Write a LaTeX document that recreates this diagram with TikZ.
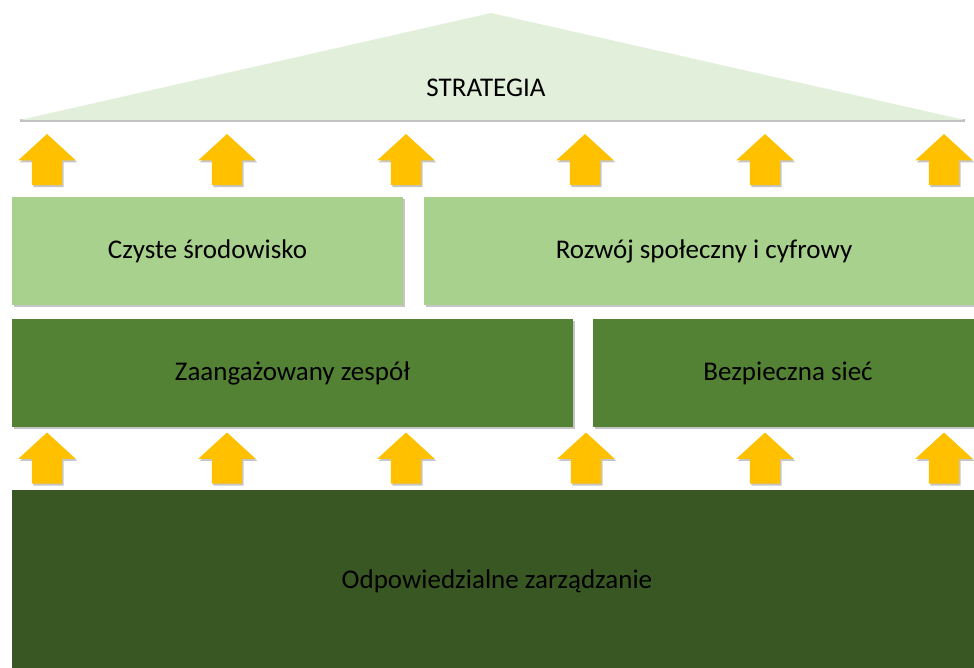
\documentclass[tikz,border=0pt]{standalone}
\usepackage{fontspec}
\setmainfont{Carlito}
\usetikzlibrary{shapes.arrows, shadows}
\definecolor{roofgreen}{HTML}{E2EFDA}
\definecolor{lightgreen}{HTML}{A9D18E}
\definecolor{midgreen}{HTML}{548235}
\definecolor{darkgreen}{HTML}{385723}
\definecolor{arrowgold}{HTML}{FFC000}
\tikzstyle{pillar} =
[
	rectangle
	, minimum height=108pt
	, inner sep=0pt
	, text=black
	, font=\fontsize{27}{32}\selectfont
	, drop shadow={shadow xshift=1.5pt, shadow yshift=-2pt, fill=black!45, opacity=0.5}
]
\tikzstyle{uparrow} =
[
	single arrow
	, shape border rotate=90
	, single arrow head extend=13.5pt
	, single arrow tip angle=95
	, minimum width=57pt
	, minimum height=51pt
	, inner sep=15pt
	, fill=arrowgold
	, drop shadow={shadow xshift=1.5pt, shadow yshift=-2pt, fill=black!45, opacity=0.5}
]
\begin{document}
\begin{tikzpicture}[x=1pt, y=-1pt]
\useasboundingbox (0,0) rectangle (974,668);

% roof
\fill[black!40, opacity=0.6] (20,122) -- (965,122) -- (965,119) -- (20,119) -- cycle;
\fill[roofgreen] (20,120) -- (491,13) -- (965,120) -- cycle;
\node(strat) at (486,88) [font=\fontsize{27}{32}\selectfont]{STRATEGIA};

% upper arrows
\node(up1)[uparrow] at (47,166.5) {};
\node(up2)[uparrow] at (227,166.5) {};
\node(up3)[uparrow] at (406,166.5) {};
\node(up4)[uparrow] at (585,166.5) {};
\node(up5)[uparrow] at (765,166.5) {};
\node(up6)[uparrow] at (944,166.5) {};

% pillars
\node(clean)[pillar, fill=lightgreen, minimum width=391pt] at (207.5,251) {Czyste środowisko};
\node(devel)[pillar, fill=lightgreen, minimum width=560pt] at (704,251) {Rozwój społeczny i cyfrowy};
\node(team)[pillar, fill=midgreen, minimum width=561pt] at (292.5,373) {Zaangażowany zespół};
\node(net)[pillar, fill=midgreen, minimum width=390pt] at (788,373) {Bezpieczna sieć};

% lower arrows
\node(lo1)[uparrow] at (47,465) {};
\node(lo2)[uparrow] at (227,465) {};
\node(lo3)[uparrow] at (406,465) {};
\node(lo4)[uparrow] at (586,465) {};
\node(lo5)[uparrow] at (765,465) {};
\node(lo6)[uparrow] at (944,465) {};

% base
\node(govern)[pillar, fill=darkgreen, minimum width=970pt, minimum height=182pt] at (497,581) {Odpowiedzialne zarządzanie};

\end{tikzpicture}
\end{document}
